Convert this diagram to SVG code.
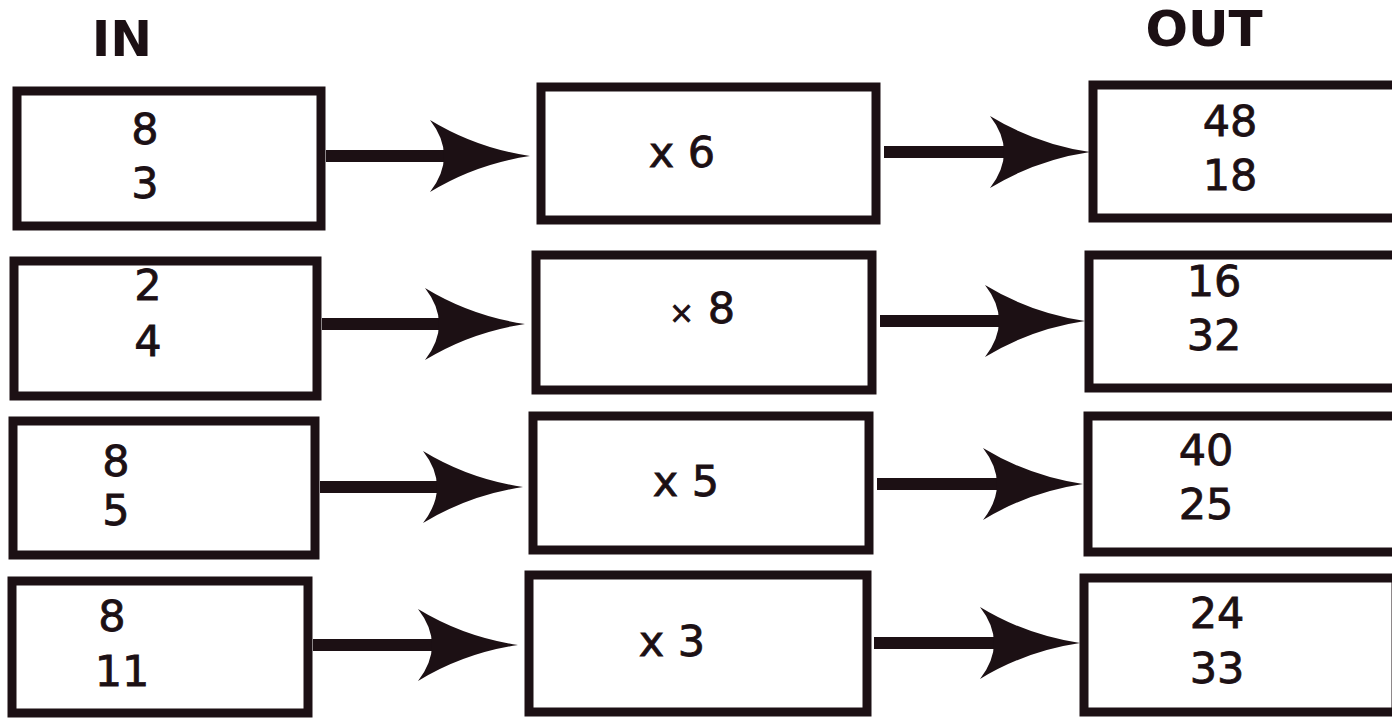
<svg xmlns="http://www.w3.org/2000/svg" width="1392" height="720" viewBox="0 0 1392 720">
<style>
.box{fill:#fff;stroke:#1c1014;stroke-width:9}
.t{font-family:"DejaVu Sans",sans-serif;font-size:43px;fill:#1c1014;stroke:#1c1014;stroke-width:0.8;text-anchor:middle}
.h{font-family:"DejaVu Sans",sans-serif;font-size:50px;font-weight:bold;fill:#1c1014;text-anchor:middle}
.c{stroke:#1c1014;stroke-width:12;fill:none;marker-end:url(#ah)}
</style>
<defs>
<marker id="ah" markerUnits="userSpaceOnUse" markerWidth="106" markerHeight="76" viewBox="0 0 106 76" refX="42" refY="38" orient="auto">
<path d="M4,2 Q50,30 104,38 Q50,46 4,74 Q32,38 4,2 Z" fill="#1c1014"/>
</marker>
</defs>
<rect width="1392" height="720" fill="#fff"/>
<text class="h" x="122" y="56">IN</text>
<text class="h" x="1204" y="46">OUT</text>
<g id="in1"><rect class="box" x="17" y="91" width="304" height="135"/><text class="t" x="145" y="144">8</text><text class="t" x="145" y="198">3</text></g>
<g id="in2"><rect class="box" x="14" y="261" width="303" height="135"/><text class="t" x="148" y="300">2</text><text class="t" x="148" y="356">4</text></g>
<g id="in3"><rect class="box" x="13" y="421" width="302" height="134"/><text class="t" x="116" y="476">8</text><text class="t" x="116" y="525">5</text></g>
<g id="in4"><rect class="box" x="12" y="581" width="296" height="132"/><text class="t" x="112" y="631">8</text><text class="t" x="122" y="686">11</text></g>
<g id="op1"><rect class="box" x="541" y="87" width="335" height="133"/><text class="t" x="682" y="167">x 6</text></g>
<g id="op2"><rect class="box" x="536" y="255" width="336" height="135"/><text class="t" x="702" y="323"><tspan font-size="30">×</tspan> 8</text></g>
<g id="op3"><rect class="box" x="533" y="416" width="336" height="134"/><text class="t" x="686" y="496">x 5</text></g>
<g id="op4"><rect class="box" x="529" y="575" width="338" height="137"/><text class="t" x="672" y="656">x 3</text></g>
<g id="out1"><rect class="box" x="1093" y="85" width="310" height="133"/><text class="t" x="1230" y="136">48</text><text class="t" x="1230" y="190">18</text></g>
<g id="out2"><rect class="box" x="1089" y="255" width="310" height="133"/><text class="t" x="1214" y="296">16</text><text class="t" x="1214" y="350">32</text></g>
<g id="out3"><rect class="box" x="1088" y="416" width="310" height="136"/><text class="t" x="1206" y="465">40</text><text class="t" x="1206" y="519">25</text></g>
<g id="out4"><rect class="box" x="1084" y="578" width="312" height="134"/><text class="t" x="1217" y="628">24</text><text class="t" x="1217" y="683">33</text></g>
<g id="connectors">
<path class="c" d="M326,156 L468,156"/>
<path class="c" d="M884,152 L1028,152"/>
<path class="c" d="M322,324 L463,324"/>
<path class="c" d="M880,321 L1023,321"/>
<path class="c" d="M320,487 L461,487"/>
<path class="c" d="M877,484 L1021,484"/>
<path class="c" d="M313,645 L456,645"/>
<path class="c" d="M874,643 L1018,643"/>
</g>
</svg>
